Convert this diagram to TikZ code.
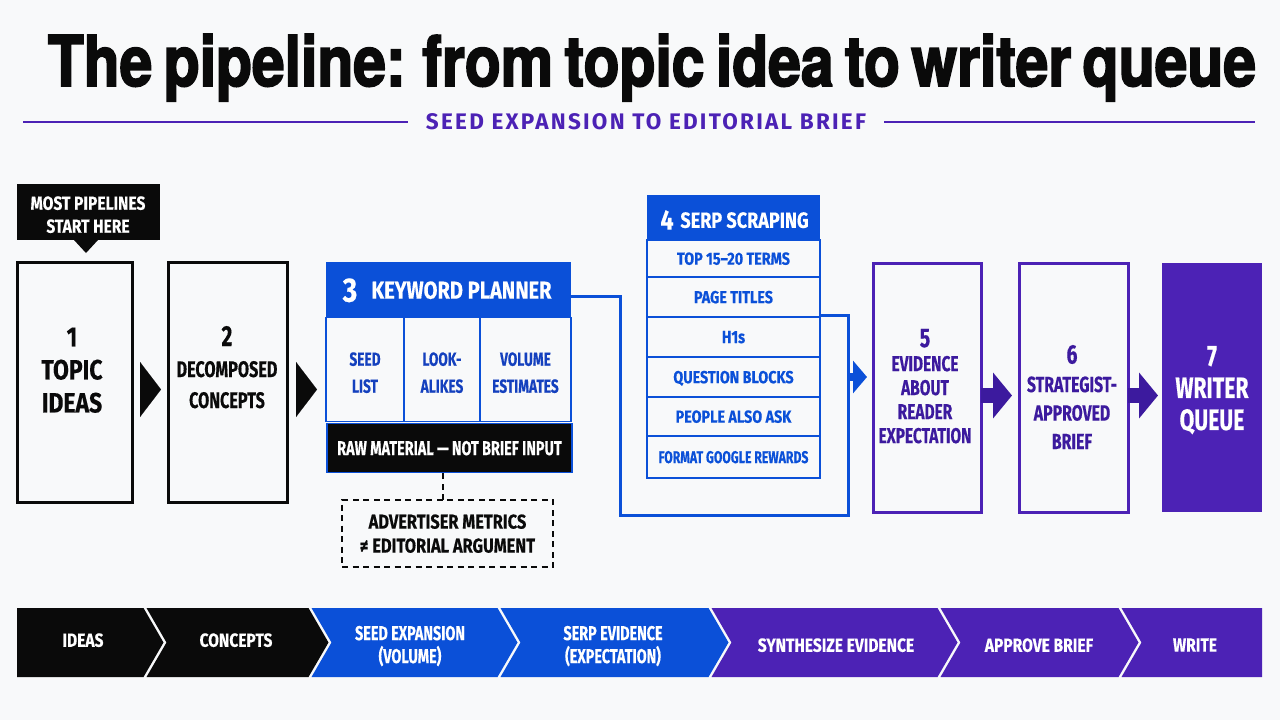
\documentclass[tikz,border=0pt]{standalone}
\usepackage{fontspec}
\usetikzlibrary{arrows.meta}
\setmainfont[FakeStretch=0.82,FakeBold=0.3]{Fira Sans}
\newfontfamily\tightfont[FakeStretch=0.72,FakeBold=0.3]{Fira Sans}
\newfontfamily\titlefont[FakeStretch=0.84,FakeBold=2.4,WordSpace=0.7]{TeX Gyre Heros}
\newfontfamily\subfont[LetterSpace=10]{Fira Sans}
\definecolor{inkblack}{HTML}{0A0A0A}
\definecolor{planblue}{HTML}{0B50D8}
\definecolor{deepblue}{HTML}{1440BE}
\definecolor{briefpurple}{HTML}{4C22B5}
\definecolor{deeppurple}{HTML}{3C1A9E}
\definecolor{paper}{HTML}{F8F9FA}
\tikzset{
    every node/.style={outer sep=0pt,inner sep=0pt,font=\bfseries,align=center,text depth=0pt},
    bigbox/.style={draw=#1,line width=3pt},
    headbox/.style={fill=planblue,text=white,minimum width=245pt},
    cellbox/.style={draw=planblue,line width=1.8pt,minimum height=104pt},
    celltext/.style={text=deepblue,yshift=-3pt,font=\tightfont\bfseries\fontsize{19}{27}\selectfont},
    rowbox/.style={draw=planblue,line width=1.8pt,text=planblue,minimum width=173pt,font=\bfseries\fontsize{17.5}{18}\selectfont},
    wire/.style={draw=planblue,line width=3pt},
    blockarrow/.style={draw=#1,line width=15pt,-{Triangle[length=19pt,width=45pt,fill=#1]}},
    wedge/.style={draw=inkblack,line width=.1pt,shorten <=8pt,shorten >=7pt,-{Triangle[length=21pt,width=55pt,fill=inkblack]}},
    stripe/.style={text=white,font=\bfseries\fontsize{19}{23}\selectfont},
    stripetwo/.style={text=white,font=\tightfont\bfseries\fontsize{20}{23}\selectfont},
    dashline/.style={draw=inkblack,line width=1.8pt,dash pattern=on 6pt off 4.5pt},
}
\begin{document}
\begin{tikzpicture}[x=1pt,y=-1pt]
    \fill[paper] (0,0) rectangle (1280,720);
    \useasboundingbox (0,0) rectangle (1280,720);

    \node[font=\titlefont\bfseries\fontsize{70}{75}\selectfont,text=inkblack] (title) at (652,60) {The pipeline: from topic idea to writer queue};
    \node[font=\subfont\bfseries\fontsize{22.5}{24}\selectfont,text=briefpurple] (subtitle) at (646,122) {SEED EXPANSION TO EDITORIAL BRIEF};
    \coordinate (ruleleft) at (23,122);
    \coordinate (ruleright) at (1255,122);
    \draw[briefpurple,line width=1.2pt] (ruleleft) -- ([xshift=-18pt]subtitle.west);
    \draw[briefpurple,line width=1.2pt] ([xshift=18pt]subtitle.east) -- (ruleright);

    \node[fill=inkblack,minimum width=143pt,minimum height=56pt] (callout) at (88.5,212) {};
    \node[text=white,font=\bfseries\fontsize{19}{23}\selectfont] (callouttext) at (88,214.5) {MOST PIPELINES\\START HERE};
    \fill[inkblack] (74,240) -- (86,253) -- (98,240) -- cycle;

    \node[bigbox=inkblack,minimum width=115pt,minimum height=240pt] (box1) at (75,382.5) {};
    \node[bigbox=inkblack,minimum width=119pt,minimum height=240pt] (box2) at (227.5,382.5) {};
    \node[text=inkblack,font=\bfseries\fontsize{28}{33}\selectfont] (label1) at (72,370) {1\\TOPIC\\IDEAS};
    \node[text=inkblack,font=\tightfont\bfseries\fontsize{22.5}{31}\selectfont] (label2) at (227,367) {{\fontsize{29}{31}\selectfont 2}\\DECOMPOSED\\CONCEPTS};

    \node[headbox,minimum height=55pt] (head3) at (448.5,289.5) {};
    \node[text=white,font=\bfseries\fontsize{34}{36}\selectfont] (num3) at (350,290) {3};
    \node[text=white,font=\bfseries\fontsize{24.5}{26}\selectfont] (name3) at (461.5,290) {KEYWORD PLANNER};
    \foreach \n/\x/\w/\t in {seed/365/78/SEED\\LIST,look/442/76/LOOK-\\ALIKES,volume/525.5/91/VOLUME\\ESTIMATES}{
        \node[cellbox,minimum width=\w pt] (\n) at (\x,369.5) {};
        \node[celltext] (\n text) at (\n) {\t};
    }
    \node[draw=planblue,line width=1.8pt,fill=inkblack,text=white,minimum width=245pt,minimum height=49pt,font=\tightfont\bfseries\fontsize{20}{22}\selectfont] (rawbar) at (449.5,448) {RAW MATERIAL — NOT BRIEF INPUT};
    \node[dashline,minimum width=211pt,minimum height=67pt,text=inkblack,font=\bfseries\fontsize{20}{24}\selectfont] (note) at (447.5,533.5) {ADVERTISER METRICS\\≠ EDITORIAL ARGUMENT};
    \draw[dashline] (note.north -| 443,0) -- (rawbar.south -| 443,0);

    \node[headbox,minimum width=173pt,minimum height=45pt] (head4) at (733.5,217.5) {};
    \node[text=white,font=\bfseries\fontsize{28}{30}\selectfont] (num4) at (667,220) {4};
    \node[text=white,font=\bfseries\fontsize{22}{24}\selectfont] (name4) at (744.5,220) {SERP SCRAPING};
    \foreach \n/\y/\h/\t in {1/258.5/37/TOP 15–20 TERMS,2/297/40/PAGE TITLES,3/337/40/H1s,4/377/40/QUESTION BLOCKS,5/416.5/39/PEOPLE ALSO ASK,6/457/42/{\tightfont\bfseries\fontsize{17}{18}\selectfont FORMAT GOOGLE REWARDS}}
        \node[rowbox,minimum height=\h pt] (row\n) at (733.5,\y) {\t};

    \coordinate (wirea) at (620,296);
    \coordinate (wireb) at (620,515);
    \coordinate (wirec) at (848,515);
    \coordinate (wired) at (848,315);
    \coordinate (wiree) at (848,377);
    \draw[wire,line join=miter] (head3.east |- wirea) -- (wirea) -- (wireb) -- (wirec) -- (wired) -- (row2.south east |- wired);

    \node[bigbox=briefpurple,minimum width=108pt,minimum height=249pt] (box5) at (927,387.5) {};
    \node[bigbox=briefpurple,minimum width=109pt,minimum height=249pt] (box6) at (1073.5,387.5) {};
    \node[fill=briefpurple,text=white,minimum width=100pt,minimum height=249pt] (box7) at (1212,387.5) {};
    \node[text=deeppurple,font=\tightfont\bfseries\fontsize{21.5}{24}\selectfont] (label5) at (925,386) {{\fontsize{27}{26}\selectfont 5}\\EVIDENCE\\ABOUT\\READER\\EXPECTATION};
    \node[text=deeppurple,font=\tightfont\bfseries\fontsize{22}{28.5}\selectfont] (label6) at (1072,397) {{\fontsize{27}{28}\selectfont 6}\\STRATEGIST-\\APPROVED\\BRIEF};
    \node[text=white,font=\tightfont\bfseries\fontsize{29.5}{32}\selectfont] (label7) at (1212,388) {7\\WRITER\\QUEUE};

    \draw[wedge] ([yshift=-7pt]box1.east) -- ([yshift=-7pt]box2.west);
    \draw[wedge,shorten <=9pt,shorten >=9pt] ([yshift=-7pt]box2.east) -- ([yshift=-7pt]box2.east -| head3.west);
    \draw[planblue,line width=8pt,shorten >=6pt,-{Triangle[length=14pt,width=32pt,fill=planblue]}] (wiree) -- (wiree -| box5.west);
    \draw[blockarrow=deeppurple,shorten >=7pt] ([yshift=-8pt]box5.east) -- ([yshift=-8pt]box6.west);
    \draw[blockarrow=deeppurple,shorten >=4pt] ([yshift=-8pt]box6.east) -- ([yshift=-8pt]box7.west);

    \foreach \l/\r/\c [count=\i] in {17/143.5/inkblack,146.5/308.5/inkblack,311.5/497.5/planblue,500.5/708.5/planblue,711.5/937.5/briefpurple,940.5/1118.5/briefpurple,1121.5/1262/briefpurple}{
        \ifnum\i=1
            \fill[\c] (\l,608) -- (\r,608) -- (\r+20,642.5) -- (\r,677) -- (\l,677) -- cycle;
        \else\ifnum\i=7
            \fill[\c] (\l,608) -- (\r,608) -- (\r,677) -- (\l,677) -- (\l+20,642.5) -- cycle;
        \else
            \fill[\c] (\l,608) -- (\r,608) -- (\r+20,642.5) -- (\r,677) -- (\l,677) -- (\l+20,642.5) -- cycle;
        \fi\fi
    }
    \node[stripe] (stripe1) at (83,640) {IDEAS};
    \node[stripe] (stripe2) at (236,640) {CONCEPTS};
    \node[stripetwo] (stripe3) at (410,644.5) {SEED EXPANSION\\(VOLUME)};
    \node[stripetwo] (stripe4) at (613,644.5) {SERP EVIDENCE\\(EXPECTATION)};
    \node[stripe] (stripe5) at (836,645) {SYNTHESIZE EVIDENCE};
    \node[stripe] (stripe6) at (1039,645) {APPROVE BRIEF};
    \node[stripe] (stripe7) at (1195,645) {WRITE};
\end{tikzpicture}
\end{document}
